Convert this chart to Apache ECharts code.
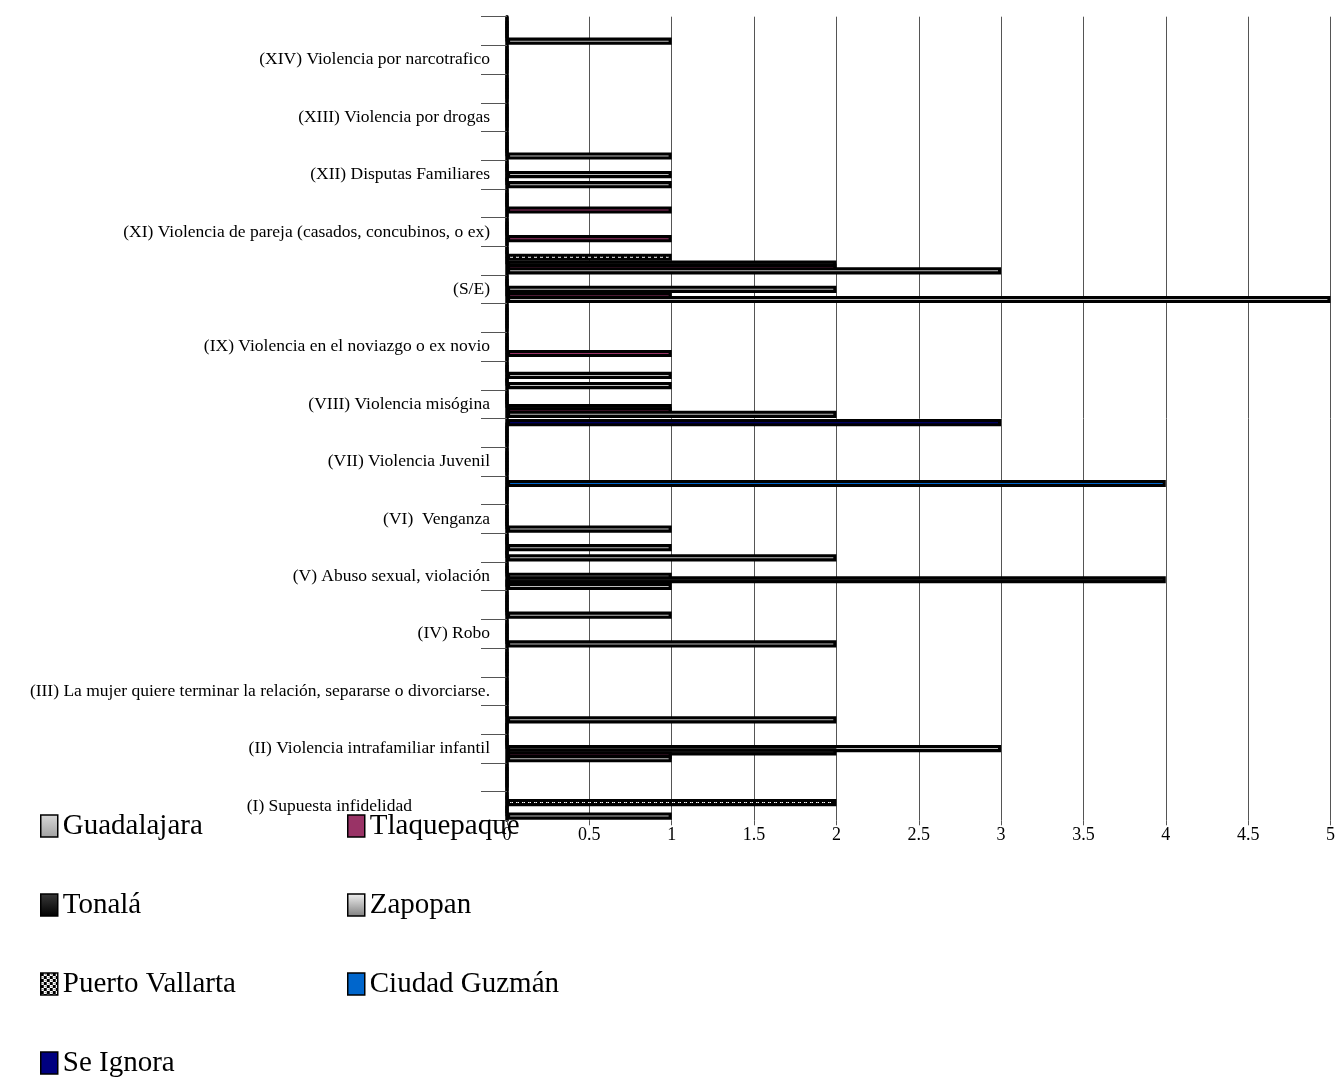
<!DOCTYPE html>
<html>
<head>
<meta charset="utf-8">
<script src="https://cdn.jsdelivr.net/npm/echarts@6/dist/echarts.min.js"></script>
<style>
html,body{margin:0;padding:0;background:#fff;}
#chart{width:1338px;height:1084px;}
</style>
</head>
<body>
<div id="chart"></div>
<script>
// Categories, bottom to top (each category occupies a labelled row plus a blank row above it)
var categories = [
  "(I) Supuesta infidelidad",
  "(II) Violencia intrafamiliar infantil",
  "(III) La mujer quiere terminar la relación, separarse o divorciarse.",
  "(IV) Robo",
  "(V) Abuso sexual, violación",
  "(VI)  Venganza",
  "(VII) Violencia Juvenil",
  "(VIII) Violencia misógina",
  "(IX) Violencia en el noviazgo o ex novio",
  "(S/E)",
  "(XI) Violencia de pareja (casados, concubinos, o ex)",
  "(XII) Disputas Familiares",
  "(XIII) Violencia por drogas",
  "(XIV) Violencia por narcotrafico"
];
var seriesNames = ["Guadalajara","Tlaquepaque","Tonalá","Zapopan","Puerto Vallarta","Ciudad Guzmán","Se Ignora"];
var xTicks = [0,0.5,1,1.5,2,2.5,3,3.5,4,4.5,5];

// 28 rows, bottom to top
var guadalajara   = [1,0,1,0,0,0,2,1,1,2,1,0,0,0,2,1,0,0,5,3,0,0,1,1,0,0,0,1];
var tlaquepaque   = [0,0,1,0,0,0,0,0,0,0,0,0,0,0,1,0,1,0,1,2,1,1,0,0,0,0,0,0];
var tonala        = [0,0,2,0,0,0,0,0,4,0,0,0,0,0,1,0,0,0,0,2,0,0,0,0,0,0,0,0];
var zapopan       = [0,0,3,2,0,0,0,0,1,1,0,0,0,0,0,1,0,0,2,0,0,0,1,0,0,0,0,0];
var puertoVallarta= [2,0,0,0,0,0,0,0,0,0,0,0,0,0,0,0,0,0,0,1,0,0,0,0,0,0,0,0];
var ciudadGuzman  = [0,0,0,0,0,0,0,0,0,0,0,4,0,0,0,0,0,0,0,0,0,0,0,0,0,0,0,0];
var seIgnora      = [0,0,0,0,0,0,0,0,0,0,0,0,0,3,0,0,0,0,0,0,0,0,0,0,0,0,0,0];

var axisRows = [];
categories.forEach(function(c){ axisRows.push(c); axisRows.push(''); });

// checker pattern for Puerto Vallarta
var pc = document.createElement('canvas');
pc.width = 6; pc.height = 6;
var g = pc.getContext('2d');
g.fillStyle = '#ffffff'; g.fillRect(0,0,6,6);
g.fillStyle = '#000000'; g.fillRect(0,0,3,3); g.fillRect(3,3,3,3);
g.fillStyle = '#888888'; g.fillRect(1,4,1,1); g.fillRect(4,1,1,1);

function lg(c1,c2){ return new echarts.graphic.LinearGradient(0,0,0,1,[{offset:0,color:c1},{offset:1,color:c2}]); }

var styles = {
  "Guadalajara": lg('#d9d9d9','#a0a0a0'),
  "Tlaquepaque": '#993366',
  "Tonalá": lg('#3a3a3a','#000000'),
  "Zapopan": lg('#f2f2f2','#7f7f7f'),
  "Puerto Vallarta": {image: pc, repeat: 'repeat'},
  "Ciudad Guzmán": '#0066cc',
  "Se Ignora": '#000080'
};
var values = {
  "Guadalajara": guadalajara, "Tlaquepaque": tlaquepaque, "Tonalá": tonala,
  "Zapopan": zapopan, "Puerto Vallarta": puertoVallarta,
  "Ciudad Guzmán": ciudadGuzman, "Se Ignora": seIgnora
};

var FONT = 'Liberation Serif';
// Series drawn top slot first (Se Ignora) to bottom slot (Guadalajara)
var order = seriesNames.slice().reverse();
var series = order.map(function(n){
  return {
    name: n, type: 'bar', data: values[n],
    barWidth: 7.2, barGap: '-53.1%',
    itemStyle: {color: styles[n], borderColor: '#000', borderWidth: 3.1},
    emphasis: {disabled: true}
  };
});

var legendBase = {
  orient: 'vertical', icon: 'rect', itemWidth: 17, itemHeight: 22, itemGap: 49,
  padding: 0, height: 273,
  textStyle: {fontFamily: FONT, fontSize: 29, color: '#000', lineHeight: 30},
  itemStyle: {borderColor: '#000', borderWidth: 1.5},
  selectedMode: false
};

var chart = echarts.init(document.getElementById('chart'), null, {renderer: 'canvas'});
chart.setOption({
  animation: false,
  backgroundColor: '#fff',
  grid: {left: 507, right: 7, top: 16.7, bottom: 263.7, containLabel: false},
  legend: [
    Object.assign({}, legendBase, {left: 40, top: 811, data: ["Guadalajara","Tonalá","Puerto Vallarta","Se Ignora"]}),
    Object.assign({}, legendBase, {left: 347, top: 811, data: ["Tlaquepaque","Zapopan","Ciudad Guzmán"]})
  ],
  xAxis: {
    type: 'value', min: 0, max: 5, interval: 0.5,
    axisLine: {show: false},
    axisTick: {show: true, length: 5, lineStyle: {color: '#555'}},
    splitLine: {show: true, lineStyle: {color: '#555', width: 1}},
    axisLabel: {fontFamily: FONT, fontSize: 18, color: '#000', margin: 6,
      formatter: function(v){ return xTicks.indexOf(v) >= 0 ? String(v) : ''; }}
  },
  yAxis: {
    type: 'category', data: axisRows,
    axisLine: {show: true, lineStyle: {color: '#000', width: 3.5}},
    axisTick: {show: true, interval: 0, length: 26, lineStyle: {color: '#555', width: 1}},
    splitLine: {show: false},
    axisLabel: {
      interval: 0, margin: 17, fontFamily: FONT, fontSize: 17.5, color: '#000',
      formatter: function(v){ return v === categories[0] ? '{p|' + v + '}' : v; },
      rich: {p: {fontFamily: FONT, fontSize: 17.5, color: '#000', padding: [0, 78, 0, 0]}}
    }
  },
  series: series
});
</script>
</body>
</html>
